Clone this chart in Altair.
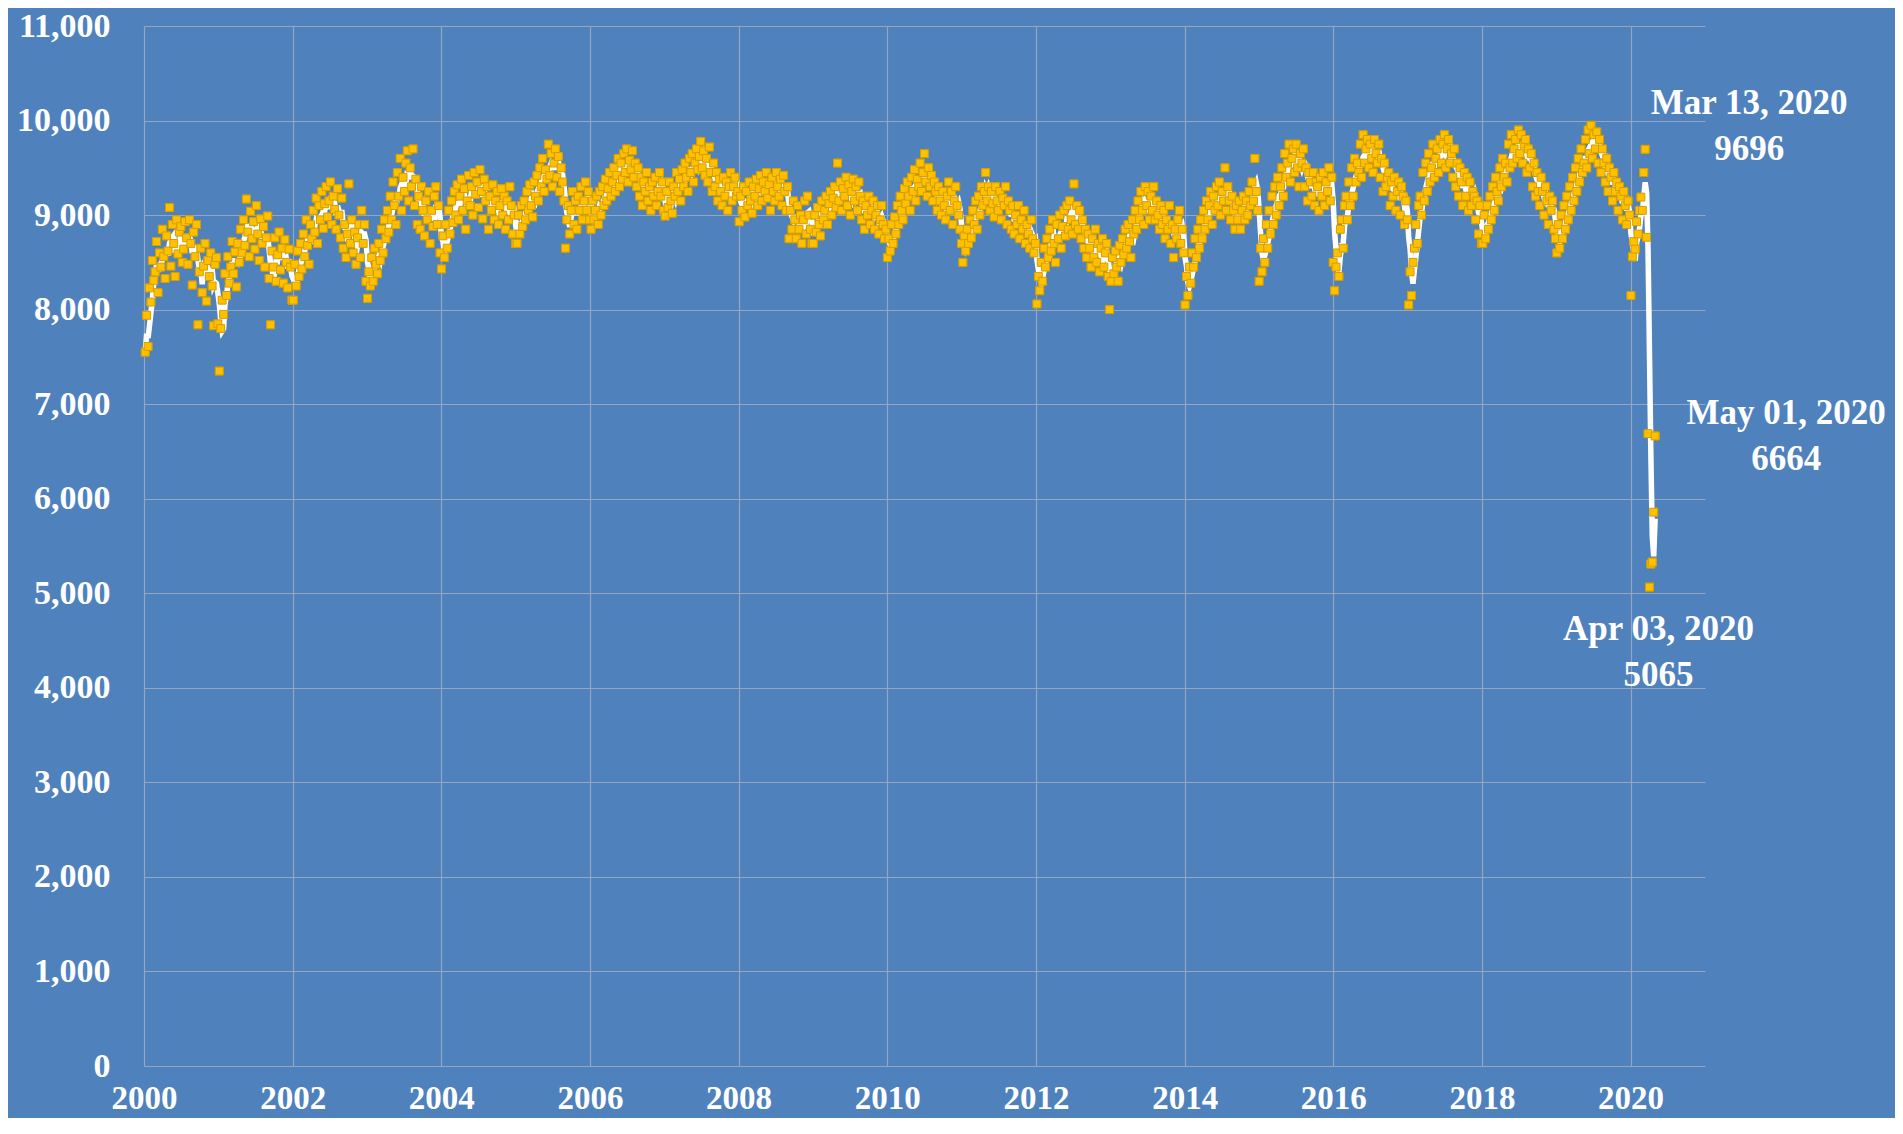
import datetime
import altair as alt
import pandas as pd

# Weekly values (thousand b/d), one list per calendar year
w2000 = [7550, 7940, 7610, 8230, 8080, 8520, 8310, 8400, 8720, 8180, 8600, 8450, 8850,
         8560, 8330, 8780, 8620, 9080, 8460, 8900, 8700, 8350, 8950, 8590, 8820, 8880,
         8500, 8640, 8930, 8760, 8480, 8950, 8700, 8260, 8820, 8560, 8900, 7840, 8400,
         8650, 8180, 8460, 8700, 8090, 8520, 8350, 8600, 8250, 7830, 8480, 8550, 7850]
w2001 = [7350, 7800, 8100, 7950, 8380, 8150, 8560, 8280, 8450, 8720, 8380, 8610, 8240,
         8700, 8500, 8850, 8600, 8950, 8680, 9170, 8820, 8560, 9040, 8750, 8930, 8640,
         9100, 8800, 8520, 8960, 8700, 8880, 8450, 8760, 8990, 8330, 7840, 8620, 8450,
         8760, 8300, 8580, 8820, 8420, 8650, 8280, 8740, 8500, 8230, 8640, 8450, 8100]
w2002 = [8100, 8480, 8250, 8620, 8350, 8700, 8430, 8800, 8560, 8950, 8680, 8480, 8900,
         8750, 9050, 8820, 9180, 8700, 9100, 8950, 9250, 8860, 9120, 9300, 8980, 9150,
         9350, 8900, 9200, 9060, 8850, 9280, 9000, 8760, 9180, 8650, 8900, 8550, 8800,
         9330, 8700, 8950, 8600, 8820, 8480, 8760, 8900, 8550, 9050, 8700, 8900, 8300]
w2003 = [8120, 8400, 8250, 8550, 8300, 8650, 8480, 8380, 8700, 8520, 8850, 8600, 8950,
         8750, 9050, 8820, 9200, 8950, 9350, 9100, 8900, 9450, 9200, 9600, 9050, 9400,
         9250, 9550, 9680, 9150, 9500, 9300, 9700, 9100, 9380, 8900, 9200, 8850, 9300,
         9050, 8780, 9150, 8950, 9250, 8700, 9050, 8880, 9200, 9300, 8900, 9100, 8600]
w2004 = [8430, 8780, 8550, 8900, 8650, 9050, 8800, 9150, 8920, 9250, 9000, 9320, 8950,
         9200, 9380, 9050, 9280, 8850, 9150, 9420, 9100, 9300, 9000, 9450, 9220, 9350,
         9080, 9480, 9250, 8960, 9380, 9150, 9300, 8850, 9200, 9050, 9320, 8950, 9150,
         9250, 8900, 9100, 9280, 9000, 9200, 8850, 9150, 8950, 9300, 9100, 8800, 9000, 8700]
w2005 = [8700, 9000, 8800, 9100, 8880, 9150, 8950, 9250, 9050, 9320, 9100, 8980, 9350,
         9200, 9420, 9150, 9500, 9300, 9600, 9250, 9480, 9380, 9750, 9420, 9650, 9300,
         9550, 9700, 9400, 9620, 9250, 9500, 9350, 9150, 8650, 8950, 9100, 8800, 9050,
         9250, 8900, 9150, 8850, 9200, 9050, 9300, 8950, 9150, 9350, 9050, 9250, 8950]
w2006 = [8850, 9150, 8950, 9050, 9200, 8900, 9250, 9000, 9300, 9100, 9380, 9150, 9280,
         9450, 9200, 9350, 9500, 9250, 9420, 9600, 9300, 9550, 9380, 9650, 9450, 9700,
         9350, 9580, 9480, 9680, 9400, 9550, 9300, 9500, 9200, 9400, 9100, 9350, 9250,
         9450, 9150, 9300, 9050, 9350, 9200, 9400, 9100, 9250, 9450, 9200, 9350, 9050]
w2007 = [8990, 9250, 9080, 9350, 9150, 9020, 9300, 9200, 9450, 9250, 9380, 9150, 9480,
         9300, 9550, 9400, 9250, 9600, 9450, 9650, 9350, 9550, 9700, 9480, 9620, 9780,
         9500, 9680, 9420, 9600, 9350, 9720, 9450, 9250, 9550, 9300, 9450, 9150, 9380,
         9250, 9100, 9400, 9200, 9350, 9050, 9300, 9450, 9150, 9300, 9400, 9200, 9250]
w2008 = [8930, 9200, 9050, 9300, 8980, 9250, 9100, 9350, 9150, 9020, 9300, 9200, 9380,
         9100, 9280, 9420, 9150, 9350, 9250, 9450, 9180, 9320, 9050, 9400, 9250, 9150,
         9450, 9300, 9200, 9380, 9100, 9420, 9250, 9050, 9300, 8750, 9050, 8850, 9150,
         8950, 8750, 9100, 8850, 9000, 8700, 8950, 9150, 8800, 9200, 9000, 8850, 8700]
w2009 = [8700, 9000, 8820, 9080, 8900, 8780, 9150, 8950, 9050, 9200, 8900, 9120, 9250,
         9000, 9180, 9300, 9080, 9550, 9150, 9350, 9050, 9280, 9200, 9400, 9100, 9320,
         9000, 9250, 9380, 9150, 9300, 9050, 9350, 9200, 8950, 9150, 8850, 9100, 9000,
         9200, 8900, 9050, 9150, 8850, 9000, 9100, 8800, 8950, 9100, 8900, 8750, 8850]
w2010 = [8550, 8750, 8620, 8900, 8700, 8980, 8800, 9100, 8900, 9200, 9050, 8950, 9280,
         9120, 9350, 9200, 9050, 9400, 9250, 9480, 9150, 9380, 9300, 9550, 9250, 9450,
         9650, 9350, 9200, 9500, 9300, 9420, 9150, 9350, 9250, 9050, 9300, 9150, 9000,
         9250, 9100, 8950, 9200, 9350, 9050, 9250, 8900, 9150, 9300, 9100, 9000, 8850, 8700]
w2011 = [8500, 8780, 8620, 8850, 8700, 8950, 8760, 9050, 8900, 9150, 8850, 9200, 9000,
         9300, 9100, 9250, 9450, 9150, 9300, 9050, 9250, 9120, 8980, 9300, 9150, 9050,
         9250, 8950, 9180, 9100, 9300, 8900, 9150, 9050, 8850, 9100, 8800, 9000, 8900,
         9100, 8750, 8950, 8850, 9050, 8700, 8900, 8800, 8650, 8950, 8750, 8600, 8700]
w2012 = [8060, 8350, 8200, 8500, 8300, 8650, 8450, 8750, 8550, 8850, 8620, 8950, 8700,
         8500, 8900, 8750, 9000, 8650, 8880, 9050, 8780, 9100, 8850, 9150, 8950, 8800,
         9330, 8900, 9100, 8850, 9050, 8750, 8950, 8650, 8850, 8550, 8800, 8650, 8450,
         8750, 8550, 8850, 8500, 8700, 8400, 8650, 8750, 8450, 8600, 8700, 8350, 8000]
w2013 = [8300, 8550, 8380, 8620, 8450, 8300, 8680, 8500, 8750, 8580, 8850, 8650, 8900,
         8720, 8550, 8950, 8800, 9050, 8850, 9150, 8950, 9250, 9050, 8900, 9300, 9100,
         9250, 8950, 9200, 9050, 9300, 8950, 9150, 9000, 8850, 9100, 8900, 9050, 8750,
         8950, 8850, 9100, 8700, 8900, 8550, 8850, 8750, 8950, 9050, 8700, 8850, 8600]
w2014 = [8050, 8350, 8150, 8450, 8280, 8600, 8450, 8750, 8550, 8850, 8650, 8950, 8750,
         9050, 8850, 9150, 8950, 9100, 9250, 8900, 9200, 9050, 9300, 9100, 9350, 9000,
         9250, 9150, 9500, 9050, 9300, 9150, 8950, 9200, 9050, 8850, 9100, 8950, 9150,
         8850, 9050, 9200, 8950, 9150, 9000, 9250, 9100, 9350, 9150, 9600, 9250, 9050]
w2015 = [8300, 8650, 8400, 8750, 8500, 8900, 8650, 9050, 8800, 9200, 8900, 9300, 9000,
         9400, 9100, 9300, 9500, 9200, 9650, 9400, 9550, 9750, 9350, 9600, 9700, 9450,
         9750, 9500, 9300, 9650, 9550, 9700, 9300, 9500, 9150, 9450, 9350, 9200, 9450,
         9100, 9350, 9300, 9050, 9400, 9200, 9450, 9100, 9350, 9250, 9500, 9150, 9400]
w2016 = [8500, 8200, 8450, 8600, 8350, 8850, 8950, 8650, 9100, 9200, 8950, 9350, 9100,
         9500, 9200, 9600, 9350, 9550, 9450, 9750, 9400, 9850, 9550, 9700, 9800, 9500,
         9750, 9600, 9450, 9800, 9650, 9550, 9750, 9400, 9600, 9250, 9550, 9300, 9400,
         9450, 9100, 9350, 9200, 9400, 9050, 9250, 9350, 9000, 9300, 9200, 8900, 9150, 8950]
w2017 = [8050, 8400, 8150, 8500, 8650, 8900, 8700, 9100, 9200, 9000, 9450, 9150, 9550,
         9250, 9650, 9350, 9500, 9750, 9400, 9600, 9700, 9450, 9800, 9550, 9750, 9850,
         9500, 9700, 9800, 9550, 9650, 9400, 9700, 9300, 9550, 9200, 9500, 9350, 9100,
         9450, 9200, 9400, 9050, 9350, 9100, 9250, 9200, 8950, 9150, 8800, 9100, 8700]
w2018 = [8700, 9000, 8750, 9100, 8850, 9200, 8950, 9300, 9050, 9400, 9250, 9150, 9500,
         9300, 9600, 9400, 9550, 9350, 9750, 9500, 9850, 9550, 9700, 9800, 9600, 9900,
         9650, 9850, 9550, 9750, 9800, 9450, 9700, 9500, 9650, 9300, 9550, 9200, 9450,
         9250, 9100, 9400, 9250, 9000, 9300, 9150, 8900, 9200, 9050, 9150, 8850, 8750]
w2019 = [8600, 8900, 8650, 9000, 8750, 9100, 8850, 9200, 8950, 9300, 9050, 9400, 9150,
         9500, 9250, 9600, 9350, 9700, 9450, 9550, 9800, 9500, 9900, 9650, 9950, 9600,
         9850, 9700, 9880, 9550, 9800, 9450, 9700, 9550, 9350, 9600, 9250, 9500, 9400,
         9150, 9450, 9250, 9350, 9050, 9300, 9200, 8950, 9250, 9100, 8900, 9150, 9000]
w2020 = [8150, 8560, 8720, 8640, 8930, 8800, 9050, 9190, 9050, 9450, 9696, 8765, 6688,
         5065, 5309, 5330, 5858, 6664]

series = {2000: w2000, 2001: w2001, 2002: w2002, 2003: w2003, 2004: w2004, 2005: w2005,
          2006: w2006, 2007: w2007, 2008: w2008, 2009: w2009, 2010: w2010, 2011: w2011,
          2012: w2012, 2013: w2013, 2014: w2014, 2015: w2015, 2016: w2016, 2017: w2017,
          2018: w2018, 2019: w2019, 2020: w2020}

# Annotations
ann_dates = ["2020-03-13", "2020-05-01", "2020-04-03"]
ann_values = [9696, 6664, 5065]
ann_labels = ["Mar 13, 2020\n9696", "May 01, 2020\n6664", "Apr 03, 2020\n5065"]

y_ticks = list(range(0, 11001, 1000))
x_tick_years = list(range(2000, 2021, 2))

rows = []
for yr, vals in series.items():
    d = datetime.date(yr, 1, 1)
    while d.weekday() != 4:  # weeks ending Friday
        d += datetime.timedelta(days=1)
    for i, v in enumerate(vals):
        rows.append({"date": (d + datetime.timedelta(days=7 * i)).isoformat() + "T00:00:00",
                     "value": v})
df = pd.DataFrame(rows)

ann_df = pd.DataFrame({"date": [a + "T00:00:00" for a in ann_dates],
                       "value": ann_values, "label": ann_labels})

FONT = "Liberation Serif"
BG = "#4F81BD"
GRID = "#95A6C2"

x_enc = alt.X(
    "date:T",
    scale=alt.Scale(domain=[alt.DateTime(year=2000, month=1, date=1),
                            alt.DateTime(year=2021, month=1, date=1)]),
    axis=alt.Axis(values=[alt.DateTime(year=y, month=1, date=1) for y in x_tick_years],
                  format="%Y", labelFont=FONT, labelFontSize=33, labelFontWeight="bold",
                  labelColor="white", ticks=False, domain=False, labelFlush=False,
                  labelBaseline="alphabetic", labelPadding=42,
                  grid=True, gridColor=GRID, gridWidth=1.2),
    title=None,
)
y_enc = alt.Y(
    "value:Q",
    scale=alt.Scale(domain=[0, 11000], nice=False, zero=True),
    axis=alt.Axis(values=y_ticks, format=",d", labelFont=FONT, labelFontSize=34,
                  labelFontWeight="bold", labelColor="white", ticks=False, domain=False,
                  labelPadding=34, labelFlush=False, grid=True, gridColor=GRID,
                  gridWidth=1.2),
    title=None,
)

line = alt.Chart(df).transform_window(
    avg="mean(value)", frame=[-3, 0], sort=[alt.SortField("date")]
).mark_line(color="white", strokeWidth=5.5).encode(
    x=x_enc, y=alt.Y("avg:Q", scale=alt.Scale(domain=[0, 11000], nice=False))
)

points = alt.Chart(df).mark_square(
    size=62, filled=True, color="#FFC000", stroke="#D49E00", strokeWidth=1, opacity=1
).encode(x=x_enc, y=y_enc)

# (dx, dy) of the first text line relative to the annotated point
offsets = [(104, -46), (131, -23), (9, 42)]
texts = []
for i, (dx, dy) in enumerate(offsets):
    texts.append(
        alt.Chart(ann_df.iloc[[i]]).mark_text(
            font=FONT, fontSize=35, fontWeight="bold", color="white", align="center",
            baseline="middle", lineBreak="\n", lineHeight=46, dx=dx, dy=dy
        ).encode(x="date:T", y="value:Q", text="label:N")
    )

chart = alt.layer(points, line, points, *texts).properties(
    width=1561, height=1040,
    padding={"left": 136, "top": 18, "right": 190, "bottom": 52},
    autosize=alt.AutoSizeParams(type="none"),
    background=BG,
).configure_view(stroke=None, fill=BG)

chart.save("out.html", embed_options={"renderer": "svg", "actions": False})
